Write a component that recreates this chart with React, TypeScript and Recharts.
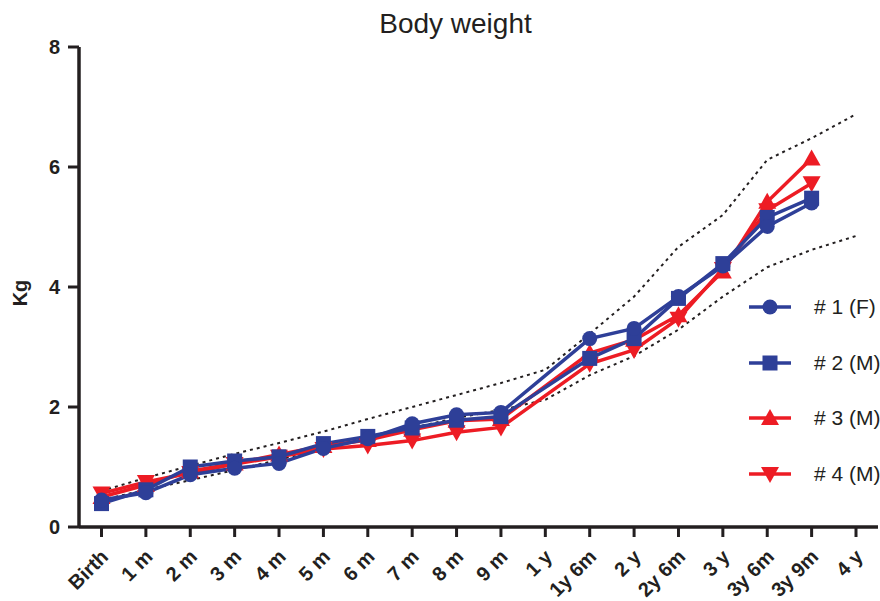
import { LineChart, Line, XAxis, YAxis, Legend } from "recharts";

const ages = ["Birth", "1 m", "2 m", "3 m", "4 m", "5 m", "6 m", "7 m", "8 m", "9 m", "1 y", "1y 6m", "2 y", "2y 6m", "3 y", "3y 6m", "3y 9m", "4 y"];

// body weight per animal, kg (no measurement at 1 y and 4 y)
const animal1 = [0.45, 0.57, 0.87, 0.98, 1.06, 1.31, 1.47, 1.72, 1.87, 1.91, null, 3.14, 3.31, 3.84, 4.35, 5.01, 5.4, null];
const animal2 = [0.39, 0.62, 1.0, 1.1, 1.17, 1.39, 1.51, 1.65, 1.78, 1.84, null, 2.81, 3.14, 3.81, 4.39, 5.16, 5.48, null];
const animal3 = [0.5, 0.7, 0.93, 1.06, 1.21, 1.35, 1.45, 1.62, 1.77, 1.8, null, 2.9, 3.12, 3.53, 4.26, 5.42, 6.14, null];
const animal4 = [0.56, 0.75, 0.9, 1.05, 1.17, 1.3, 1.36, 1.44, 1.58, 1.66, null, 2.72, 2.95, 3.47, 4.3, 5.28, 5.73, null];

// reference range
const upperRange = [0.6, 0.82, 1.02, 1.22, 1.4, 1.59, 1.8, 2.0, 2.2, 2.4, 2.62, 3.22, 3.84, 4.67, 5.2, 6.12, 6.48, 6.88];
const lowerRange = [0.45, 0.62, 0.78, 0.95, 1.12, 1.31, 1.48, 1.65, 1.82, 1.95, 2.12, 2.53, 2.85, 3.29, 3.84, 4.33, 4.62, 4.85];

const yTicks = [0, 2, 4, 6, 8];

const BLUE = "#2E3F98";
const RED = "#ED1C24";
const INK = "#231F20";
const FONT = "'Liberation Sans', Arial, Helvetica, sans-serif";

const series = [
  { key: "a1", name: "# 1 (F)", color: BLUE, shape: "circle" },
  { key: "a2", name: "# 2 (M)", color: BLUE, shape: "square" },
  { key: "a3", name: "# 3 (M)", color: RED, shape: "up" },
  { key: "a4", name: "# 4 (M)", color: RED, shape: "down" },
];

const data = ages.map((age, i) => ({
  age,
  a1: animal1[i],
  a2: animal2[i],
  a3: animal3[i],
  a4: animal4[i],
  upper: upperRange[i],
  lower: lowerRange[i],
}));

function Marker({ cx, cy, shape, color }: { cx: number; cy: number; shape: string; color: string }) {
  if (shape === "circle") return <circle cx={cx} cy={cy} r={7.5} fill={color} />;
  if (shape === "square") return <rect x={cx - 7.5} y={cy - 7.5} width={15} height={15} fill={color} />;
  if (shape === "up")
    return <polygon points={`${cx},${cy - 9} ${cx + 9},${cy + 7} ${cx - 9},${cy + 7}`} fill={color} />;
  return <polygon points={`${cx},${cy + 9} ${cx + 9},${cy - 7} ${cx - 9},${cy - 7}`} fill={color} />;
}

const makeDot = (shape: string, color: string) => (props: any) => {
  const { cx, cy, index, value } = props;
  if (cx == null || cy == null || value == null) return <g key={`d-${shape}-${index}`} />;
  return (
    <g key={`d-${shape}-${index}`}>
      <Marker cx={cx} cy={cy} shape={shape} color={color} />
    </g>
  );
};

const XTick = ({ x, y, payload }: any) => (
  <text
    x={x + 8}
    y={y + 19}
    transform={`rotate(-45 ${x + 8} ${y + 19})`}
    textAnchor="end"
    fontFamily={FONT}
    fontWeight={700}
    fontSize={20}
    fill={INK}
  >
    {payload.value}
  </text>
);

const LegendBox = () => (
  <div style={{ fontFamily: FONT, width: 140 }}>
    {series.map(s => (
      <div key={s.key} style={{ display: "flex", alignItems: "center", height: 55.6, whiteSpace: "nowrap" }}>
        <svg width={42} height={20} style={{ flexShrink: 0 }}>
          <line x1={0} y1={10} x2={42} y2={10} stroke={s.color} strokeWidth={3.5} />
          <Marker cx={21} cy={10} shape={s.shape} color={s.color} />
        </svg>
        <span style={{ marginLeft: 23, fontSize: 21, color: INK, whiteSpace: "nowrap" }}>{s.name}</span>
      </div>
    ))}
  </div>
);

export default function App() {
  return (
    <div style={{ position: "absolute", left: 0, top: 0, width: 880, height: 601, background: "#fff", overflow: "hidden" }}>
      <div
        style={{
          position: "absolute",
          left: 0,
          width: 911,
          top: 9.6,
          textAlign: "center",
          fontFamily: FONT,
          fontSize: 28,
          lineHeight: "28px",
          color: INK,
        }}
      >
        Body weight
      </div>
      <LineChart width={880} height={601} data={data} margin={{ top: 47, right: 2, left: 0, bottom: 0 }}>
        <XAxis
          dataKey="age"
          interval={0}
          padding={{ left: 22.5, right: 22 }}
          height={74}
          tickSize={10}
          tickLine={{ stroke: INK, strokeWidth: 3 }}
          axisLine={{ stroke: INK, strokeWidth: 3.5 }}
          tick={<XTick />}
        />
        <YAxis
          domain={[0, 8]}
          ticks={yTicks}
          width={79}
          tickSize={11}
          tickMargin={8}
          tickLine={{ stroke: INK, strokeWidth: 3 }}
          axisLine={{ stroke: INK, strokeWidth: 3.5 }}
          tick={{ fontFamily: FONT, fontWeight: 700, fontSize: 20, fill: INK }}
          label={() => (
            <text
              x={20}
              y={293}
              transform="rotate(-90 20 293)"
              textAnchor="middle"
              dominantBaseline="central"
              fontFamily={FONT}
              fontWeight={700}
              fontSize={20}
              fill={INK}
            >
              Kg
            </text>
          )}
        />
        <Legend
          layout="vertical"
          align="center"
          verticalAlign="middle"
          wrapperStyle={{ left: 749, top: 279.5, width: 140 }}
          content={() => <LegendBox />}
        />
        <Line dataKey="upper" stroke={INK} strokeWidth={2} strokeDasharray="3 4" dot={false} legendType="none" isAnimationActive={false} />
        <Line dataKey="lower" stroke={INK} strokeWidth={2} strokeDasharray="3 4" dot={false} legendType="none" isAnimationActive={false} />
        {[...series].reverse().map(s => (
          <Line
            key={s.key}
            dataKey={s.key}
            name={s.name}
            stroke={s.color}
            strokeWidth={3.5}
            connectNulls
            dot={makeDot(s.shape, s.color)}
            activeDot={false}
            isAnimationActive={false}
          />
        ))}
      </LineChart>
    </div>
  );
}
